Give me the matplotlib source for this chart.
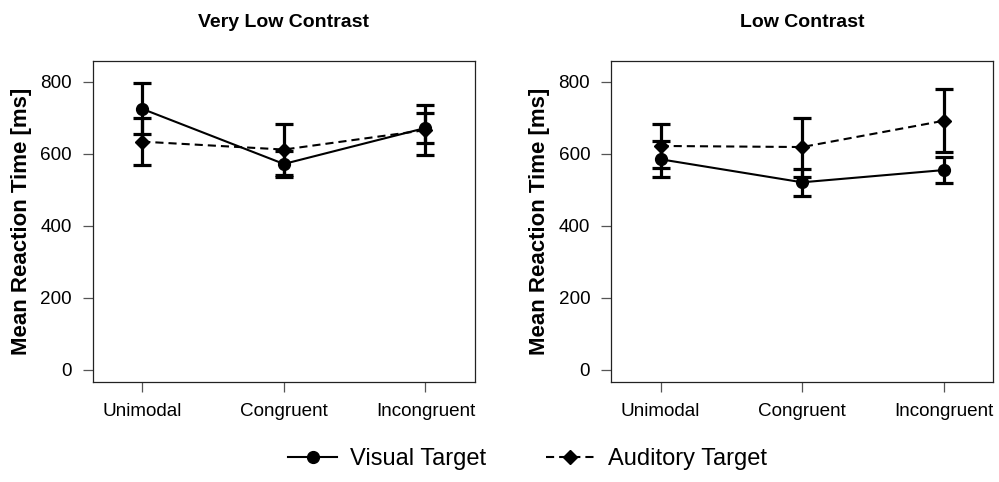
import matplotlib

matplotlib.use('Agg')
import matplotlib.pyplot as plt
from matplotlib.lines import Line2D

plt.rcParams['font.family'] = ['Liberation Sans', 'DejaVu Sans']

CONDITIONS = ['Unimodal', 'Congruent', 'Incongruent']
Y_TICKS = [0, 200, 400, 600, 800]
PANEL_TITLES = ['Very Low Contrast', 'Low Contrast']

# mean reaction times and standard errors per contrast level
VERY_LOW_VISUAL = [725, 572, 672]
VERY_LOW_VISUAL_SE = [71, 35, 42]
VERY_LOW_AUDITORY = [634, 612, 666]
VERY_LOW_AUDITORY_SE = [66, 71, 70]

LOW_VISUAL = [585, 521, 555]
LOW_VISUAL_SE = [50, 37, 35]
LOW_AUDITORY = [622, 619, 692]
LOW_AUDITORY_SE = [60, 82, 87]

DASHES = (3.9, 2.4)
TICK_COLOR = '#555555'


def draw_panel(ax, title, visual, visual_se, auditory, auditory_se):
    x = list(range(1, len(CONDITIONS) + 1))
    for means, errors in ((auditory, auditory_se), (visual, visual_se)):
        ax.errorbar(x, means, yerr=errors, fmt='none', ecolor='black',
                    elinewidth=2.3, capsize=6.2, capthick=2.3, zorder=2)
    ax.plot(x, auditory, color='black', lw=1.5, dashes=DASHES,
            marker='D', markersize=7, zorder=3)
    ax.plot(x, visual, color='black', lw=1.5,
            marker='o', markersize=8.5, zorder=4)

    ax.set_xlim(0.65, 3.35)
    ax.set_ylim(-33, 858)
    ax.set_xticks(x)
    ax.set_xticklabels(CONDITIONS)
    ax.set_yticks(Y_TICKS)
    ax.tick_params(axis='both', direction='out', length=7, width=0.9,
                   color=TICK_COLOR, labelsize=13.6)
    ax.tick_params(axis='x', pad=8.5)
    ax.tick_params(axis='y', pad=8)
    for spine in ax.spines.values():
        spine.set_linewidth(0.9)
        spine.set_color('#222222')

    ax.set_title(title, fontsize=14, fontweight='bold', pad=24.5)
    ax.set_ylabel('Mean Reaction Time [ms]', fontsize=16, fontweight='bold')
    ax.yaxis.set_label_coords(-0.16, 0.5)


fig = plt.figure(figsize=(9.99, 4.82), dpi=100)
ax_left = fig.add_axes([0.0928, 0.2081, 0.3827, 0.6653])
ax_right = fig.add_axes([0.6116, 0.2081, 0.3827, 0.6653])

draw_panel(ax_left, PANEL_TITLES[0], VERY_LOW_VISUAL, VERY_LOW_VISUAL_SE,
           VERY_LOW_AUDITORY, VERY_LOW_AUDITORY_SE)
draw_panel(ax_right, PANEL_TITLES[1], LOW_VISUAL, LOW_VISUAL_SE,
           LOW_AUDITORY, LOW_AUDITORY_SE)

handles = [
    Line2D([], [], color='black', lw=1.5, marker='o', markersize=8.5),
    Line2D([], [], color='black', lw=1.5, dashes=DASHES, marker='D', markersize=7),
]
fig.legend(handles, ['Visual Target', 'Auditory Target'], loc='center',
           bbox_to_anchor=(0.528, 0.048), ncol=2, frameon=False, fontsize=17,
           handlelength=2.1, handletextpad=0.55, columnspacing=2.5)

fig.savefig('out.png', dpi=100)
